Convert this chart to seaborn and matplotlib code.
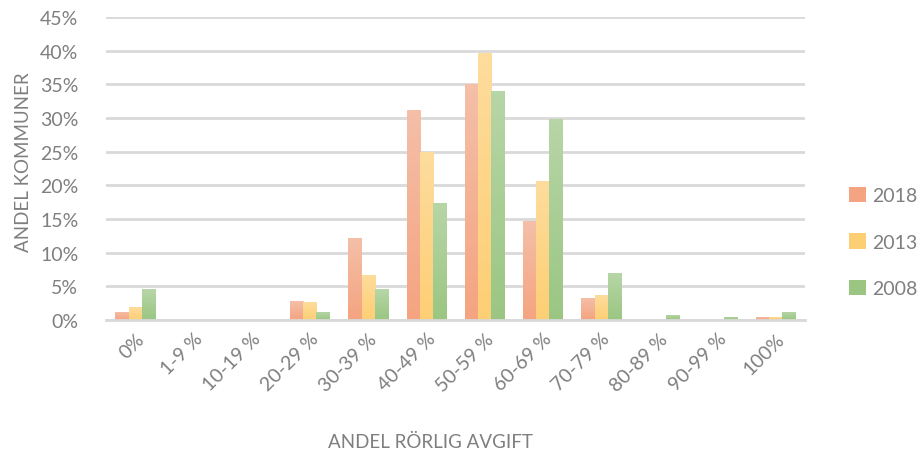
import numpy as np
import pandas as pd
import matplotlib
import matplotlib.pyplot as plt
import seaborn as sns
from matplotlib.colors import LinearSegmentedColormap
from matplotlib.patches import Patch

categories = ['0%', '1-9 %', '10-19 %', '20-29 %', '30-39 %', '40-49 %',
              '50-59 %', '60-69 %', '70-79 %', '80-89 %', '90-99 %', '100%']
years = ['2018', '2013', '2008']
share_2018 = [1.2, 0.0, 0.0, 2.8, 12.2, 31.2, 35.0, 14.7, 3.3, 0.0, 0.0, 0.45]
share_2013 = [1.9, 0.0, 0.0, 2.7, 6.7, 24.9, 39.6, 20.6, 3.7, 0.0, 0.0, 0.45]
share_2008 = [4.6, 0.0, 0.0, 1.2, 4.6, 17.4, 34.0, 29.8, 7.0, 0.75, 0.45, 1.2]

# bottom / top colours of the gradient fill
grad = {
    '2018': ('#f4a480', '#f5bfa8'),
    '2013': ('#fdcf75', '#fedc9c'),
    '2008': ('#9bc682', '#b7d6a7'),
}

df = pd.DataFrame({
    'kategori': categories * 3,
    'andel': share_2018 + share_2013 + share_2008,
    'år': [y for y in years for _ in categories],
})

sns.set_style('white')
plt.rcParams['font.family'] = ['Lato', 'DejaVu Sans']
gray = '#7f7f7f'

fig = plt.figure(figsize=(9.24, 4.52), dpi=100)
ax = fig.add_axes([106 / 924, 1 - 321 / 452, 699 / 924, 303 / 452])

palette = {y: grad[y][0] for y in years}
sns.barplot(data=df, x='kategori', y='andel', hue='år', order=categories,
            hue_order=years, palette=palette, width=0.68, gap=0,
            saturation=1, ax=ax, legend=False)

# replace solid fills with vertical gradients
for cont, y in zip(ax.containers, years):
    cmap = LinearSegmentedColormap.from_list(y, [grad[y][0], grad[y][1]])
    for bar in cont:
        x0, y0 = bar.get_x(), bar.get_y()
        w, h = bar.get_width(), bar.get_height()
        bar.set_facecolor('none')
        bar.set_edgecolor('none')
        if h <= 0:
            continue
        im = ax.imshow(np.linspace(0, 1, 64).reshape(-1, 1), cmap=cmap,
                       extent=[x0, x0 + w, y0, y0 + h], origin='lower',
                       aspect='auto', zorder=2)
        im.set_clip_path(bar)

ax.set_xlim(-0.5, len(categories) - 0.5)
ax.set_ylim(0, 45)
ax.set_yticks(np.arange(0, 46, 5))
ax.set_yticklabels([f'{v}%' for v in range(0, 46, 5)])
ax.set_axisbelow(True)
ax.yaxis.grid(True, color='#d9d9d9', linewidth=2)
for s in ['top', 'right', 'left']:
    ax.spines[s].set_visible(False)
ax.spines['bottom'].set_color('#d9d9d9')
ax.spines['bottom'].set_linewidth(2)
ax.tick_params(axis='both', length=0, labelsize=14, labelcolor=gray)
ax.tick_params(axis='x', pad=7)
ax.tick_params(axis='y', pad=20)
plt.setp(ax.get_xticklabels(), rotation=45, ha='right', rotation_mode='anchor')
ax.set_xlabel('ANDEL RÖRLIG AVGIFT', fontsize=13.5, color=gray, labelpad=28,
              x=(430 - 106) / 699)
ax.set_ylabel('ANDEL KOMMUNER', fontsize=13.5, color=gray, labelpad=6,
              y=(321 - 162) / 303)

handles = [Patch(facecolor=grad[y][0], edgecolor='none') for y in years]
fig.legend(handles, years, loc='center left', bbox_to_anchor=(849 / 924, 1 - 243 / 452),
           frameon=False, fontsize=14, labelcolor=gray, handlelength=0.85,
           handleheight=0.85, handletextpad=0.35, labelspacing=1.5,
           borderpad=0, borderaxespad=0)

fig.savefig('out.png', dpi=100)
